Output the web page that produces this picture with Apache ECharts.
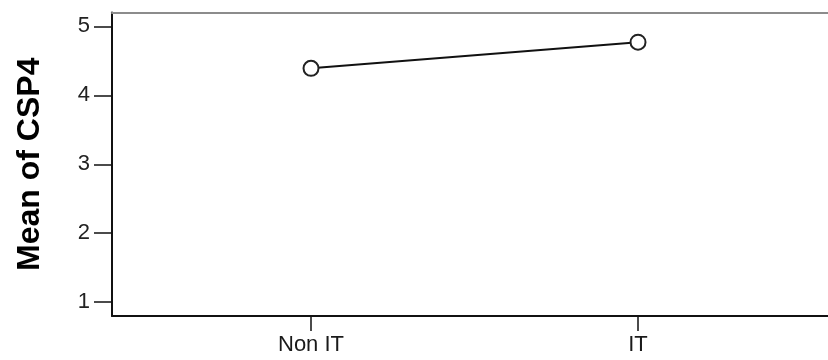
<!DOCTYPE html>
<html>
<head>
<meta charset="utf-8">
<script src="https://cdn.jsdelivr.net/npm/echarts@6/dist/echarts.min.js"></script>
<style>
html,body{margin:0;padding:0;background:#fff;}
#chart{width:828px;height:360px;}
</style>
</head>
<body>
<div id="chart"></div>
<script>
const categories = ['Non IT', 'IT'];
const means = [4.39, 4.77];
const yTicks = [1, 2, 3, 4, 5];
const yTitle = 'Mean of CSP4';

const positions = categories.map((c, i) => i);
const chart = echarts.init(document.getElementById('chart'), null, {renderer: 'canvas'});
chart.setOption({
  animation: false,
  backgroundColor: '#ffffff',
  grid: {left: 112, top: 12.5, bottom: 44, right: 0, containLabel: false},
  xAxis: [{
    type: 'value',
    min: -0.6086,
    max: 1.581,
    splitLine: {show: false},
    axisLine: {show: true, onZero: false, lineStyle: {color: '#111', width: 2}},
    axisTick: {show: true, customValues: positions, length: 15, lineStyle: {color: '#111', width: 1.5}},
    axisLabel: {
      customValues: positions,
      formatter: v => categories[Math.round(v)] || '',
      fontFamily: 'Liberation Sans, Arial, sans-serif',
      fontSize: 22, color: '#1a1a1a', margin: 18
    }
  }, {
    type: 'value',
    position: 'top',
    min: 0, max: 1,
    axisLine: {show: true, lineStyle: {color: '#8c8c8c', width: 2}},
    axisTick: {show: false},
    axisLabel: {show: false},
    splitLine: {show: false}
  }],
  yAxis: {
    type: 'value',
    min: 0.8,
    max: 5.2,
    name: yTitle,
    nameLocation: 'middle',
    nameGap: 66,
    nameTextStyle: {fontFamily: 'Liberation Sans, Arial, sans-serif', fontSize: 32, fontWeight: 'bold', color: '#000'},
    splitLine: {show: false},
    axisLine: {show: true, onZero: false, lineStyle: {color: '#111', width: 2}},
    axisTick: {show: true, customValues: yTicks, length: 18, lineStyle: {color: '#111', width: 1.5}},
    axisLabel: {
      customValues: yTicks,
      fontFamily: 'Liberation Sans, Arial, sans-serif',
      fontSize: 22, color: '#222', margin: 22
    }
  },
  series: [{
    type: 'line',
    xAxisIndex: 0,
    data: positions.map((p, i) => [p, means[i]]),
    symbol: 'emptyCircle',
    symbolSize: 15,
    lineStyle: {color: '#111', width: 2},
    itemStyle: {color: '#222', borderColor: '#222', borderWidth: 2},
    z: 5
  }]
});
</script>
</body>
</html>
